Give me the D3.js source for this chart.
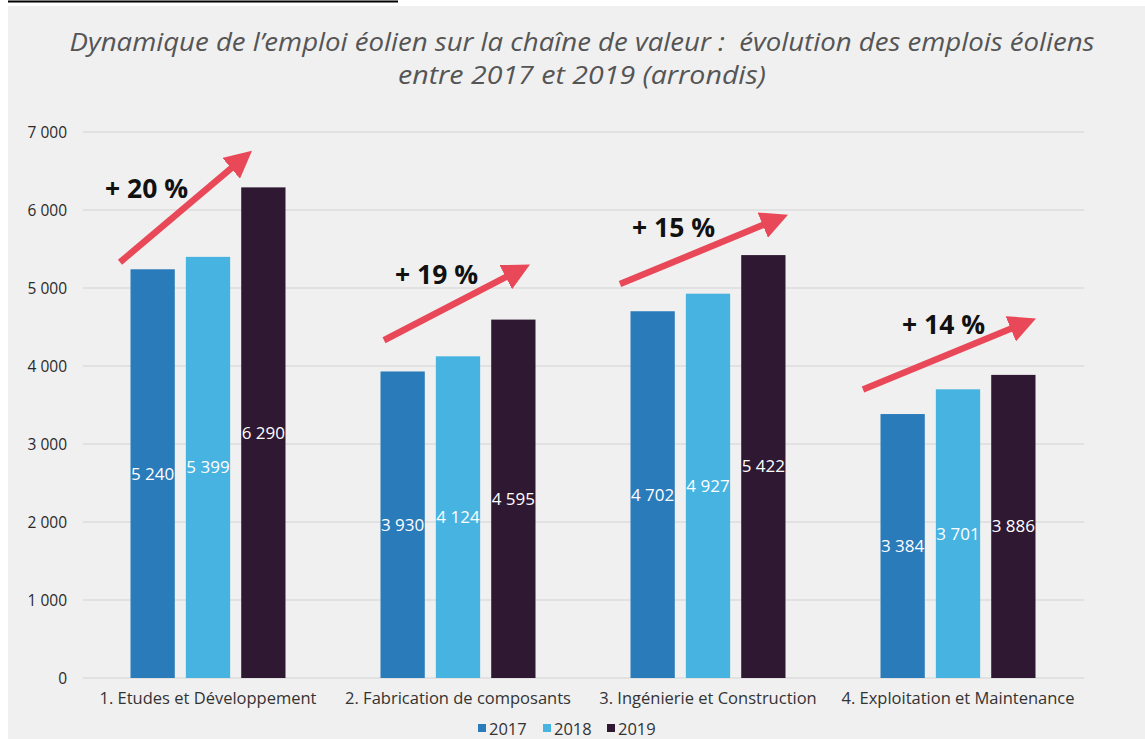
<!DOCTYPE html>
<html>
<head>
<meta charset="utf-8">
<script src="https://cdn.jsdelivr.net/npm/d3@7"></script>
<style>
  html, body { margin: 0; padding: 0; background: #ffffff; }
  svg { display: block; }
</style>
</head>
<body>
<svg id="chart" width="1145" height="739"></svg>
<script>
// Wind-power jobs along the value chain, 2017–2019 (rounded)
const categories = [
  "1. Etudes et Développement",
  "2. Fabrication de composants",
  "3. Ingénierie et Construction",
  "4. Exploitation et Maintenance"
];
const years = ["2017", "2018", "2019"];
const jobs2017 = [5240, 3930, 4702, 3384];
const jobs2018 = [5399, 4124, 4927, 3701];
const jobs2019 = [6290, 4595, 5422, 3886];
const growthLabels = ["+ 20 %", "+ 19 %", "+ 15 %", "+ 14 %"];
const yTicks = [0, 1000, 2000, 3000, 4000, 5000, 6000, 7000];

const colors = ["#2a7bba", "#47b3e1", "#2f1832"];
const series = [jobs2017, jobs2018, jobs2019];

const W = 1145, H = 739;
const FONT = "'Open Sans', sans-serif";
const svg = d3.select("#chart");

// grey panel and the rule above it
svg.append("rect").attr("x", 8).attr("y", 6).attr("width", W - 8).attr("height", H - 6)
  .attr("fill", "#f0f0f0");
svg.append("line").attr("x1", 8).attr("x2", 398).attr("y1", 1.5).attr("y2", 1.5)
  .attr("stroke", "#000").attr("stroke-width", 2);

// title
const title = svg.append("text")
  .attr("text-anchor", "middle")
  .attr("font-family", FONT)
  .attr("font-style", "italic")
  .attr("font-size", 25.5)
  .attr("fill", "#555");
title.append("tspan").attr("x", 582).attr("y", 51)
  .attr("textLength", 1025).attr("lengthAdjust", "spacingAndGlyphs")
  .text("Dynamique de l’emploi éolien sur la chaîne de valeur :\u00a0 évolution des emplois éoliens");
title.append("tspan").attr("x", 582).attr("y", 84)
  .attr("textLength", 368).attr("lengthAdjust", "spacingAndGlyphs")
  .text("entre 2017 et 2019 (arrondis)");

const plot = { left: 83, right: 1083, top: 132, bottom: 678 };

const x0 = d3.scaleBand().domain(categories).range([plot.left, plot.right]).paddingInner(0).paddingOuter(0);
const x1 = d3.scaleBand().domain(years).range([0, 155]).paddingInner(0.2).paddingOuter(0);
const groupOffset = (x0.bandwidth() - 155) / 2;
const y = d3.scaleLinear().domain([0, 7000]).range([plot.bottom, plot.top]);

const fr = d3.formatLocale({ decimal: ",", thousands: " ", grouping: [3], currency: ["", " €"] });
const fmt = fr.format(",d");

// grid lines
const grid = svg.append("g");
grid.selectAll("line").data(yTicks).join("line")
  .attr("x1", plot.left).attr("x2", plot.right + 1)
  .attr("y1", d => y(d)).attr("y2", d => y(d))
  .attr("stroke", "#dddddd").attr("stroke-width", 1.5);

// y axis labels
const yAxis = svg.append("g").attr("transform", `translate(${plot.left - 16},0)`)
  .call(d3.axisLeft(y).tickValues(yTicks).tickFormat(fmt).tickSize(0).tickPadding(0));
yAxis.select(".domain").remove();
yAxis.selectAll("text")
  .attr("font-family", FONT).attr("font-size", 15.5)
  .attr("fill", "#2a2a2a").attr("dy", "0.36em");

// bars
const groups = svg.append("g").selectAll("g").data(categories).join("g")
  .attr("transform", d => `translate(${x0(d) + groupOffset},0)`);

groups.each(function (cat, ci) {
  const g = d3.select(this);
  years.forEach((yr, si) => {
    const v = series[si][ci];
    g.append("rect")
      .attr("x", x1(yr)).attr("width", x1.bandwidth())
      .attr("y", y(v)).attr("height", y(0) - y(v))
      .attr("fill", colors[si]);
    g.append("text")
      .attr("x", x1(yr) + x1.bandwidth() / 2)
      .attr("y", (y(v) + y(0)) / 2)
      .attr("dy", "0.35em")
      .attr("text-anchor", "middle")
      .attr("font-family", FONT)
      .attr("font-size", 17)
      .attr("fill", "#ffffff")
      .text(fmt(v));
  });
});

// category labels
const xAxis = svg.append("g").attr("transform", `translate(0,${plot.bottom})`)
  .call(d3.axisBottom(x0).tickSize(0).tickPadding(14));
xAxis.select(".domain").remove();
xAxis.selectAll("text")
  .attr("font-family", FONT).attr("font-size", 16.5)
  .attr("fill", "#333");

// growth arrows: endpoints given in pixels from the group's left edge and in job counts
const arrowStart = [[37, 5330], [51, 4330], [37, 5050], [30, 3700]];
const arrowTip = [[169, 6760], [197, 5300], [205, 5940], [203, 4610]];
const labelAt = [[22, 6150], [62, 5050], [49, 5650], [69, 4410]];

const HEAD = 4.2, SW = 6.5;
const defs = svg.append("defs");
defs.append("marker").attr("id", "head")
  .attr("viewBox", "0 0 10 10").attr("refX", 5).attr("refY", 5)
  .attr("markerWidth", HEAD).attr("markerHeight", HEAD).attr("orient", "auto")
  .attr("markerUnits", "strokeWidth")
  .append("path").attr("d", "M0,0 L10,5 L0,10 z").attr("fill", "#e84857");

const ann = svg.append("g");
categories.forEach((cat, i) => {
  const gx = x0(cat);
  const xa = gx + arrowStart[i][0], ya = y(arrowStart[i][1]);
  const xt = gx + arrowTip[i][0], yt = y(arrowTip[i][1]);
  // pull the line end back so the arrowhead tip lands on the tip point
  const len = Math.hypot(xt - xa, yt - ya);
  const back = HEAD * SW * 0.5;
  const xb = xt - (xt - xa) / len * back, yb = yt - (yt - ya) / len * back;
  ann.append("line")
    .attr("x1", xa).attr("y1", ya).attr("x2", xb).attr("y2", yb)
    .attr("stroke", "#e84857").attr("stroke-width", SW)
    .attr("marker-end", "url(#head)");
  ann.append("text")
    .attr("x", gx + labelAt[i][0]).attr("y", y(labelAt[i][1]))
    .attr("font-family", FONT)
    .attr("font-weight", "bold").attr("font-size", 26.5)
    .attr("fill", "#111")
    .text(growthLabels[i]);
});

// legend
const legend = svg.append("g").attr("transform", "translate(478,729)");
const legendX = [0, 65, 129];
years.forEach((yr, i) => {
  legend.append("rect").attr("x", legendX[i]).attr("y", -5).attr("width", 8).attr("height", 8)
    .attr("fill", colors[i]);
  legend.append("text").attr("x", legendX[i] + 11).attr("y", 0).attr("dy", "0.35em")
    .attr("font-family", FONT).attr("font-size", 16.5)
    .attr("fill", "#333").text(yr);
});
</script>
</body>
</html>
